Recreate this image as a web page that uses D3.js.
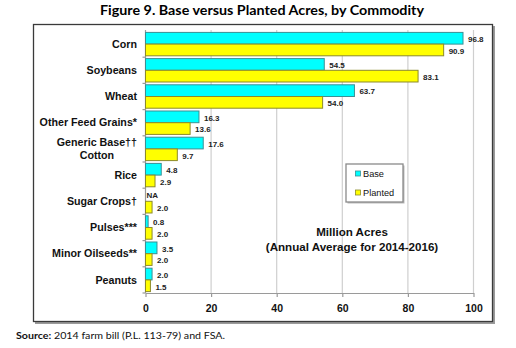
<!DOCTYPE html>
<html>
<head>
<meta charset="utf-8">
<script src="https://cdn.jsdelivr.net/npm/d3@7"></script>
<style>
  body { margin: 0; background: #fff; }
  svg { display: block; }
</style>
</head>
<body>
<script>
// values (million acres, annual avg 2014-2016)
const categories = ["Corn", "Soybeans", "Wheat", "Other Feed Grains*", "Generic Base††\nCotton",
  "Rice", "Sugar Crops†", "Pulses***", "Minor Oilseeds**", "Peanuts"];
const baseAcres = [96.8, 54.5, 63.7, 16.3, 17.6, 4.8, null, 0.8, 3.5, 2.0];
const plantedAcres = [90.9, 83.1, 54.0, 13.6, 9.7, 2.9, 2.0, 2.0, 2.0, 1.5];
const xTicks = [0, 20, 40, 60, 80, 100];
const seriesNames = ["Base", "Planted"];

const width = 516, height = 348;
const colors = {Base: "#00ffff", Planted: "#ffff00"};
const strokes = {Base: "#3b8f94", Planted: "#8c8a2a"};
const arial = "'Liberation Sans', Arial, sans-serif";

const svg = d3.select("body").append("svg")
  .attr("width", width)
  .attr("height", height);

// title
svg.append("text")
  .attr("x", 262).attr("y", 15)
  .attr("text-anchor", "middle")
  .attr("textLength", 324).attr("lengthAdjust", "spacingAndGlyphs")
  .style("font-family", "Lato, 'Open Sans', sans-serif")
  .style("font-weight", "bold")
  .style("font-size", "13.5px")
  .text("Figure 9. Base versus Planted Acres, by Commodity");

// frame with a little shadow
svg.append("rect")
  .attr("x", 35).attr("y", 26).attr("width", 460).attr("height", 298)
  .attr("fill", "#9a9a9a");
svg.append("rect")
  .attr("x", 33.5).attr("y", 24.5).attr("width", 459).attr("height", 297)
  .attr("fill", "#fff").attr("stroke", "#3a3a3a").attr("stroke-width", 1.3);

const plot = {left: 145.5, right: 473.5, top: 31, bottom: 293};

const x = d3.scaleLinear().domain([0, 100]).range([plot.left, plot.right]);
const y = d3.scaleBand().domain(categories).range([plot.top, plot.bottom]).paddingInner(0).paddingOuter(0);
const sub = d3.scaleBand().domain(seriesNames).range([0, y.bandwidth()]).paddingOuter(0.12).paddingInner(0);

const g = svg.append("g");

// gridlines
g.selectAll(".grid")
  .data(xTicks.filter(d => d > 0))
  .enter().append("line")
  .attr("x1", d => x(d)).attr("x2", d => x(d))
  .attr("y1", plot.top - 1).attr("y2", plot.bottom)
  .attr("stroke", "#cfcfcf").attr("stroke-width", 1.2);

// bottom axis
const xAxis = g.append("g")
  .attr("transform", `translate(0,${plot.bottom})`)
  .call(d3.axisBottom(x).tickValues(xTicks).tickSize(4).tickPadding(8).tickSizeOuter(0));
xAxis.select(".domain").attr("stroke", "#9a9a9a").attr("stroke-width", 1.2);
xAxis.selectAll(".tick line").attr("stroke", "#9a9a9a").attr("stroke-width", 1.2);
xAxis.selectAll("text")
  .style("font-family", arial).style("font-weight", "bold").style("font-size", "10.5px")
  .attr("fill", "#111");

// left axis line + ticks at band edges
g.append("line")
  .attr("x1", plot.left).attr("x2", plot.left)
  .attr("y1", plot.top - 1).attr("y2", plot.bottom)
  .attr("stroke", "#9a9a9a").attr("stroke-width", 1.2);
g.selectAll(".ytick")
  .data(categories.slice(1))
  .enter().append("line")
  .attr("x1", plot.left - 3).attr("x2", plot.left)
  .attr("y1", d => y(d)).attr("y2", d => y(d))
  .attr("stroke", "#9a9a9a").attr("stroke-width", 1.2);
g.append("line")
  .attr("x1", plot.left - 3).attr("x2", plot.left)
  .attr("y1", plot.bottom).attr("y2", plot.bottom)
  .attr("stroke", "#9a9a9a").attr("stroke-width", 1.2);

// bars
const rows = categories.map((c, i) => ({cat: c, Base: baseAcres[i], Planted: plantedAcres[i]}));
const row = g.selectAll(".row")
  .data(rows)
  .enter().append("g")
  .attr("transform", d => `translate(0,${y(d.cat)})`);

seriesNames.forEach(s => {
  row.filter(d => d[s] != null).append("rect")
    .attr("x", x(0))
    .attr("y", sub(s))
    .attr("width", d => x(d[s]) - x(0))
    .attr("height", sub.bandwidth())
    .attr("fill", colors[s])
    .attr("stroke", strokes[s]).attr("stroke-width", 1);

  row.append("text")
    .attr("x", d => d[s] == null ? x(0) + 1 : x(d[s]) + 5)
    .attr("y", d => sub(s) + sub.bandwidth() / 2 + (d[s] == null ? 0 : 1))
    .attr("dy", "0.35em")
    .style("font-family", arial).style("font-weight", "bold").style("font-size", "8px")
    .attr("fill", "#222")
    .text(d => d[s] == null ? "NA" : d3.format(".1f")(d[s]));
});

// category labels (multi-line ones centred on themselves)
const labelRight = 137;
row.each(function(d) {
  const lines = d.cat.split("\n");
  const t = d3.select(this).append("text")
    .style("font-family", arial).style("font-weight", "bold").style("font-size", "10.7px")
    .attr("fill", "#111");
  const lh = 12.6;
  lines.forEach((l, i) => {
    t.append("tspan")
      .attr("y", y.bandwidth() / 2 + (i - (lines.length - 1) / 2) * lh)
      .attr("dy", "0.35em")
      .text(l);
  });
  const maxW = d3.max(t.selectAll("tspan").nodes(), n => n.getComputedTextLength());
  if (lines.length > 1) {
    t.attr("text-anchor", "middle");
    t.selectAll("tspan").attr("x", labelRight - maxW / 2);
  } else {
    t.attr("text-anchor", "end");
    t.selectAll("tspan").attr("x", labelRight);
  }
});

// legend
const leg = svg.append("g").attr("transform", "translate(346,164)");
leg.append("rect").attr("x", 1.5).attr("y", 1.5).attr("width", 57).attr("height", 38).attr("fill", "#bbb");
leg.append("rect").attr("width", 57).attr("height", 38)
  .attr("fill", "#fff").attr("stroke", "#8a8a8a").attr("stroke-width", 1.3);
seriesNames.forEach((s, i) => {
  const ly = 9.5 + i * 19;
  leg.append("rect")
    .attr("x", 9.5).attr("y", ly - 2.5).attr("width", 5).attr("height", 5)
    .attr("fill", colors[s]).attr("stroke", strokes[s]).attr("stroke-width", 0.8);
  leg.append("text")
    .attr("x", 17).attr("y", ly).attr("dy", "0.35em")
    .style("font-family", arial).style("font-size", "9.2px")
    .attr("fill", "#111")
    .text(s);
});

// axis title
const title2 = svg.append("text")
  .attr("text-anchor", "middle")
  .style("font-family", arial).style("font-weight", "bold").style("font-size", "11.6px")
  .attr("fill", "#111");
title2.append("tspan").attr("x", 352).attr("y", 236).text("Million Acres");
title2.append("tspan").attr("x", 352).attr("y", 251).text("(Annual Average for 2014-2016)");

// source
const src = svg.append("text")
  .attr("x", 16).attr("y", 339)
  .attr("textLength", 209).attr("lengthAdjust", "spacingAndGlyphs")
  .style("font-family", "Lato, 'Open Sans', sans-serif")
  .style("font-size", "10.2px")
  .attr("fill", "#111");
src.append("tspan").style("font-weight", "bold").text("Source:");
src.append("tspan").text(" 2014 farm bill (P.L. 113-79) and FSA.");
</script>
</body>
</html>
